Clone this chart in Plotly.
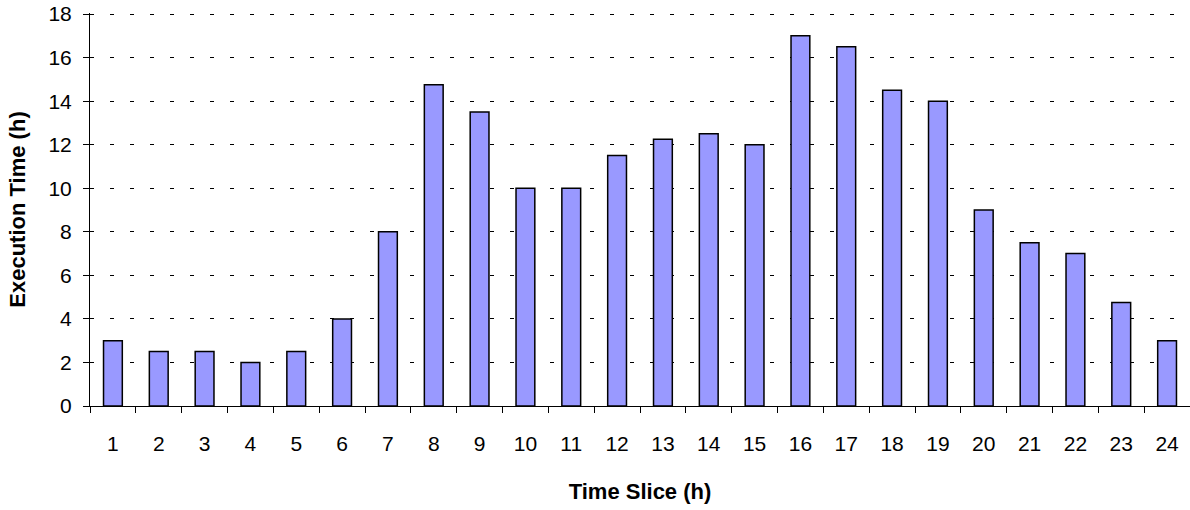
import plotly.graph_objects as go

categories = [str(i) for i in range(1, 25)]
exec_time = [3, 2.5, 2.5, 2, 2.5, 4, 8, 14.75, 13.5, 10, 10, 11.5,
             12.25, 12.5, 12, 17, 16.5, 14.5, 14, 9, 7.5, 7, 4.75, 3]
y_ticks = [0, 2, 4, 6, 8, 10, 12, 14, 16, 18]

fig = go.Figure(go.Bar(
    x=categories, y=exec_time,
    marker=dict(color="#9999FF", line=dict(color="black", width=1.5)),
))

font_family = "Liberation Sans, Arial, sans-serif"
fig.update_layout(
    width=1190, height=510,
    margin=dict(l=90, r=0, t=13, b=104, pad=0),
    paper_bgcolor="white", plot_bgcolor="white",
    bargap=0.59, showlegend=False,
    font=dict(family=font_family, size=21, color="black"),
)
fig.update_xaxes(
    type="category", tickson="boundaries",
    ticks="outside", ticklen=6, tickwidth=1, tickcolor="black",
    showline=True, linecolor="black", linewidth=1,
    showgrid=False, ticklabelstandoff=19,
    tickfont=dict(size=21),
    title=dict(text="<b>Time Slice (h)</b>", font=dict(size=22), standoff=29),
)
fig.update_yaxes(
    range=[0, 18.05], tickvals=y_ticks,
    ticks="outside", ticklen=6, tickwidth=1, tickcolor="black",
    showline=True, linecolor="black", linewidth=1,
    showgrid=True, gridcolor="black", gridwidth=1, griddash="4px,16px",
    zeroline=False, ticklabelstandoff=7,
    tickfont=dict(size=21),
    title=dict(text="<b>Execution Time (h)</b>", font=dict(size=22), standoff=16),
)

fig.write_html("out.html", config={"displayModeBar": False},
               post_script="document.body.style.margin='0px';")
